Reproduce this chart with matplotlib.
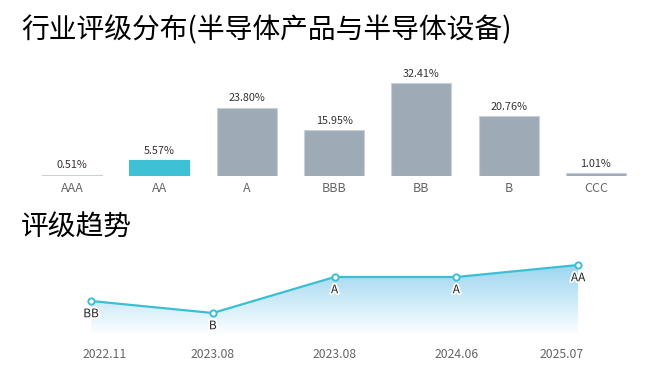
import numpy as np
import matplotlib.pyplot as plt
import matplotlib.patheffects as pe
from matplotlib.colors import LinearSegmentedColormap
from matplotlib.transforms import ScaledTranslation

plt.rcParams['font.family'] = ['Noto Sans CJK SC', 'DejaVu Sans']

# rating distribution
grades = ['AAA', 'AA', 'A', 'BBB', 'BB', 'B', 'CCC']
shares = [0.51, 5.57, 23.80, 15.95, 32.41, 20.76, 1.01]
highlight = 'AA'

# rating trend
trend_dates = ['2022.11', '2023.08', '2023.08', '2024.06', '2025.07']
trend_grades = ['BB', 'B', 'A', 'A', 'AA']
grade_scale = ['B', 'BB', 'BBB', 'A', 'AA']

W, H = 659, 380
fig = plt.figure(figsize=(W / 100, H / 100), dpi=100)


def box(left, top, right, bottom):
    return [left / W, 1 - bottom / H, (right - left) / W, (bottom - top) / H]


fig.text(21 / W, 1 - 30 / H, '行业评级分布(半导体产品与半导体设备)', fontsize=20,
         va='center', ha='left', color='#000000')
fig.text(21 / W, 1 - 228 / H, '评级趋势', fontsize=20,
         va='center', ha='left', color='#000000')

# --- bar chart ---
ax = fig.add_axes(box(28.5, 75.5, 639.5, 176))
x = np.arange(len(grades))
colors = ['#3ec1d5' if g == highlight else '#9eaab6' for g in grades]
edges = ['#3ec1d5' if g == highlight else '#c8d0d8' for g in grades]
ax.bar(x, shares, width=0.687, color=colors, edgecolor=edges, linewidth=0.8)
for xi, v in zip(x, shares):
    ax.annotate(f'{v:.2f}%', (xi, v), xytext=(0, 3), textcoords='offset points',
                ha='center', va='bottom', fontsize=7.8, color='#333333')
ax.set_xlim(-0.5, len(grades) - 0.5)
ax.set_ylim(0, 35)
ax.set_xticks(x)
ax.set_xticklabels(grades, fontsize=9, color='#666666')
ax.tick_params(axis='x', length=0, pad=4)
ax.set_yticks([])
for s in ax.spines.values():
    s.set_visible(False)

# --- trend line ---
ax2 = fig.add_axes(box(70, 250, 600, 340))
tx = np.arange(len(trend_dates))
ty = np.array([grade_scale.index(g) for g in trend_grades], dtype=float)
y_floor = -1.83
ax2.set_xlim(-0.1725, 4.18)
ax2.set_ylim(-2.25, 5.25)

poly = ax2.fill_between(tx, ty, y_floor, color='none', linewidth=0)
cmap = LinearSegmentedColormap.from_list('g', ['#ffffff', '#cdeaf7', '#9dd5ef'])
grad = np.linspace(0, 1, 256).reshape(-1, 1)
im = ax2.imshow(grad, cmap=cmap, origin='lower', aspect='auto',
                extent=[tx[0], tx[-1], y_floor, ty.max()], zorder=1)
im.set_clip_path(poly.get_paths()[0], transform=ax2.transData)

ax2.plot(tx, ty, color='#3bbfd5', lw=1.6, zorder=3,
         marker='o', markersize=4.5, markerfacecolor='white',
         markeredgecolor='#3bbfd5', markeredgewidth=1.4)
for xi, yi, g in zip(tx, ty, trend_grades):
    ax2.annotate(g, (xi, yi), xytext=(0, -4.5), textcoords='offset points',
                 ha='center', va='top', fontsize=8.5, color='#222222', zorder=4,
                 path_effects=[pe.withStroke(linewidth=2.5, foreground='white')])

ax2.set_xticks(tx)
ax2.set_xticklabels(trend_dates, fontsize=8.8, color='#666666')
ax2.tick_params(axis='x', length=0, pad=6)
labels = ax2.get_xticklabels()
labels[0].set_transform(labels[0].get_transform() + ScaledTranslation(14 / 100, 0, fig.dpi_scale_trans))
labels[-1].set_transform(labels[-1].get_transform() + ScaledTranslation(-16 / 100, 0, fig.dpi_scale_trans))
ax2.set_yticks([])
for s in ax2.spines.values():
    s.set_visible(False)

fig.savefig('out.png', dpi=100)
